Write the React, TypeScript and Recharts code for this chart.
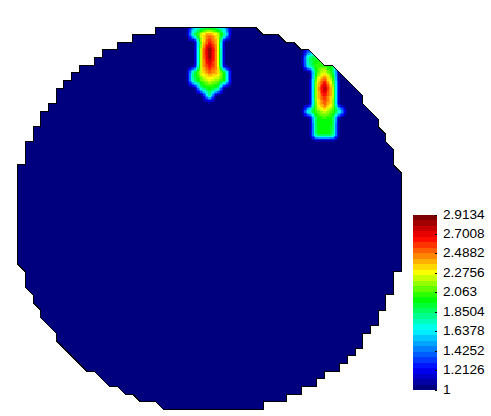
import React from 'react';
import { Bar, BarChart, ComposedChart, Curve, Scatter, XAxis, YAxis } from 'recharts';

const WIDTH = 491;
const HEIGHT = 416;

// Mesh outline, clockwise from the left edge, as [column, row] of the 50x50 grid
const outlineLeftTop = [[0, 31], [0, 18], [1, 18], [1, 15], [2, 15], [2, 13], [3, 13], [3, 11], [4, 11], [4, 10], [5, 10], [5, 8], [6, 8], [6, 7], [7, 7], [7, 6], [8, 6], [8, 5], [10, 5], [10, 4], [11, 4], [11, 3], [13, 3], [13, 2], [15, 2], [15, 1], [18, 1], [18, 0]];
const outlineRightTop = [[31, 0], [32, 1], [34, 1], [35, 2], [36, 2], [37, 3], [38, 3], [40, 5], [41, 5], [45, 9], [45, 10], [47, 12], [47, 13], [48, 14], [48, 15], [49, 16], [49, 18], [50, 19]];
const outlineRightBottom = [[50, 32], [49, 32], [49, 35], [48, 35], [48, 37], [47, 37], [47, 39], [46, 39], [46, 40], [45, 40], [45, 42], [44, 42], [44, 43], [43, 43], [43, 44], [42, 44], [42, 45], [40, 45], [40, 46], [39, 46], [39, 47], [37, 47], [37, 48], [35, 48], [35, 49], [32, 49], [32, 50]];
const outlineLeftBottom = [[19, 50], [18, 49], [16, 49], [15, 48], [14, 48], [13, 47], [12, 47], [10, 45], [9, 45], [5, 41], [5, 40], [3, 38], [3, 37], [2, 36], [2, 35], [1, 34], [1, 32], [0, 31]];

// Nodal values of the two hot spots, columns 22-28 / rows 0-10
const spotAColumn = 22;
const spotARow = 0;
const spotA = [
  [1, 1.55, 1.8, 1.9, 1.8, 1.55, 1],
  [1, 1.85, 2.3, 2.5, 2.3, 1.8, 1],
  [1, 1, 2.25, 2.65, 2.4, 1, 1],
  [1, 1, 2.35, 2.91, 2.45, 1, 1],
  [1, 1, 2.35, 2.85, 2.45, 1, 1],
  [1, 1, 2.35, 2.7, 2.45, 1, 1],
  [1, 1.9, 2.3, 2.5, 2.4, 1.95, 1],
  [1, 1.85, 2.1, 2.25, 2.15, 1.95, 1],
  [1, 1, 1.85, 2.0, 1.9, 1, 1],
  [1, 1, 1, 1.85, 1, 1, 1],
  [1, 1, 1, 1, 1, 1, 1],
];

// columns 37-43 / rows 3-15
const spotBColumn = 37;
const spotBRow = 3;
const spotB = [
  [1, 1.3, 1.4, 1, 1, 1, 1],
  [1, 1.85, 1.95, 1.95, 1.8, 1, 1],
  [1, 1.8, 2.05, 2.05, 1.95, 1, 1],
  [1, 1, 2.05, 2.3, 2.0, 1, 1],
  [1, 1, 2.25, 2.6, 2.2, 1, 1],
  [1, 1, 2.3, 2.85, 2.35, 1, 1],
  [1, 1, 2.3, 2.65, 2.35, 1, 1],
  [1, 1, 2.25, 2.55, 2.3, 1, 1],
  [1, 1.8, 2.1, 2.25, 2.1, 1.75, 1],
  [1, 1, 1.97, 2.02, 1.97, 1, 1],
  [1, 1, 1.95, 2.0, 1.95, 1, 1],
  [1, 1, 1.95, 2.0, 1.95, 1, 1],
  [1, 1, 1, 1, 1, 1, 1],
];

const tickValues = [1, 1.2126, 1.4252, 1.6378, 1.8504, 2.063, 2.2756, 2.4882, 2.7008, 2.9134];
const bandEdges = [1, 1.0598, 1.1196, 1.1794, 1.2392, 1.299, 1.3588, 1.4186, 1.4784, 1.5382, 1.5979, 1.6577, 1.7175, 1.7773, 1.8371, 1.8969, 1.9567, 2.0165, 2.0763, 2.1361, 2.1959, 2.2557, 2.3155, 2.3753, 2.4351, 2.4948, 2.5546, 2.6144, 2.6742, 2.734, 2.7938, 2.8536, 2.9134];

// Colour ramp stops: position on the bar, then r, g, b
const rampStops = [
  [0, 0, 0, 127],
  [0.11, 0, 0, 255],
  [0.34, 0, 255, 255],
  [0.52, 0, 255, 0],
  [0.68, 255, 255, 0],
  [0.88, 255, 0, 0],
  [1, 127, 0, 0],
];

const MIN = 1;
const MAX = 2.9134;
const BANDS = bandEdges.length - 1;
const CELL_W = 383.3 / 50;
const CELL_H = 382.5 / 50;
const SUB = 5;

const bandColor = (index: number) => {
  const t = index / (BANDS - 1);
  const k = rampStops.findIndex((s) => s[0] >= t);
  if (k <= 0) return `rgb(${rampStops[0].slice(1).join(',')})`;
  const [a, b] = [rampStops[k - 1], rampStops[k]];
  const f = (t - a[0]) / (b[0] - a[0]);
  const ch = (n: number) => Math.round(a[n] + (b[n] - a[n]) * f);
  return `rgb(${ch(1)},${ch(2)},${ch(3)})`;
};

const colorOf = (value: number) => {
  const i = Math.floor(((value - MIN) / (MAX - MIN)) * BANDS);
  return bandColor(Math.max(0, Math.min(BANDS - 1, i)));
};

const outline = [...outlineLeftTop, ...outlineRightTop, ...outlineRightBottom, ...outlineLeftBottom].map(([x, y]) => ({ x, y }));

const buildCells = (nodes: number[][], column: number, row: number) => {
  const cells: { x: number; y: number; tl: number; tr: number; bl: number; br: number }[] = [];
  for (let r = 0; r < nodes.length - 1; r++) {
    for (let c = 0; c < nodes[r].length - 1; c++) {
      const [tl, tr, bl, br] = [nodes[r][c], nodes[r][c + 1], nodes[r + 1][c], nodes[r + 1][c + 1]];
      if (Math.max(tl, tr, bl, br) > MIN) {
        cells.push({ x: column + c + 0.5, y: row + r + 0.5, tl, tr, bl, br });
      }
    }
  }
  return cells;
};

const cells = [...buildCells(spotA, spotAColumn, spotARow), ...buildCells(spotB, spotBColumn, spotBRow)];

// Shaded cell: the four node values are blended across the cell, like the original's smooth shading
const HeatCell = (props: any) => {
  const { cx, cy, payload } = props;
  const { tl, tr, bl, br } = payload;
  const w = CELL_W / SUB;
  const h = CELL_H / SUB;
  const rects = [];
  for (let j = 0; j < SUB; j++) {
    for (let i = 0; i < SUB; i++) {
      const u = (i + 0.5) / SUB;
      const v = (j + 0.5) / SUB;
      const value = tl * (1 - u) * (1 - v) + tr * u * (1 - v) + bl * (1 - u) * v + br * u * v;
      rects.push(
        <rect key={`${i}-${j}`} x={cx - CELL_W / 2 + i * w} y={cy - CELL_H / 2 + j * h} width={w} height={h} fill={colorOf(value)} />,
      );
    }
  }
  return <g clipPath="url(#disk)" shapeRendering="crispEdges">{rects}</g>;
};

const DiskFill = (props: any) => {
  const points = props.points.map((p: any) => `${p.x},${p.y}`).join(' ');
  return (
    <g>
      <defs>
        <clipPath id="disk"><polygon points={points} /></clipPath>
      </defs>
      <Curve {...props} type="linear" fill="#00007f" stroke="none" shapeRendering="crispEdges" />
    </g>
  );
};

const DiskEdge = (props: any) => <Curve {...props} type="linear" fill="none" stroke="#000" strokeWidth={1} shapeRendering="crispEdges" />;

const NoPoint = () => <g />;

const BarTick = (props: any) => {
  const { x, y, payload } = props;
  return (
    <g>
      <line x1={x - 2} x2={x} y1={y} y2={y} stroke="#000" shapeRendering="crispEdges" />
      <text x={x + 6} y={y - 1.5} dy={5} fontSize={13.6} fontFamily="Liberation Sans" fill="#000">{payload.value}</text>
    </g>
  );
};

const bandRow = bandEdges.slice(1).reduce<Record<string, number | string>>(
  (row, edge, i) => {
    row[`band${i}`] = i === 0 ? edge : edge - bandEdges[i];
    return row;
  },
  { name: 'scale' },
);

const App: React.FC = () => {
  return (
    <div style={{ position: 'absolute', left: 0, top: 0, width: WIDTH, height: HEIGHT }}>
      <div style={{ position: 'absolute', left: 0, top: 0 }}>
        <ComposedChart width={WIDTH} height={HEIGHT} margin={{ left: 17.7, right: 90, top: 27, bottom: 6.5 }}>
          <XAxis type="number" dataKey="x" domain={[0, 50]} hide />
          <YAxis type="number" dataKey="y" domain={[0, 50]} reversed hide />
          <Scatter data={outline} line={DiskFill} shape={NoPoint} isAnimationActive={false} />
          <Scatter data={cells} shape={HeatCell} isAnimationActive={false} />
          <Scatter data={outline} line={DiskEdge} shape={NoPoint} isAnimationActive={false} />
        </ComposedChart>
      </div>
      <div style={{ position: 'absolute', left: 0, top: 0 }}>
        <BarChart width={WIDTH} height={HEIGHT} data={[bandRow]} barCategoryGap={0} margin={{ left: 413, right: 0, top: 215, bottom: 26 }}>
          <XAxis dataKey="name" hide />
          <YAxis
            orientation="right"
            type="number"
            width={54}
            domain={[MIN, MAX]}
            allowDataOverflow
            ticks={tickValues}
            interval={0}
            axisLine={false}
            tickLine={false}
            tickSize={0}
            tickMargin={0}
            tick={BarTick}
          />
          {bandEdges.slice(1).map((_, i) => (
            <Bar key={i} dataKey={`band${i}`} stackId="scale" fill={bandColor(i)} shapeRendering="crispEdges" isAnimationActive={false} />
          ))}
        </BarChart>
      </div>
    </div>
  );
};

export default App;
